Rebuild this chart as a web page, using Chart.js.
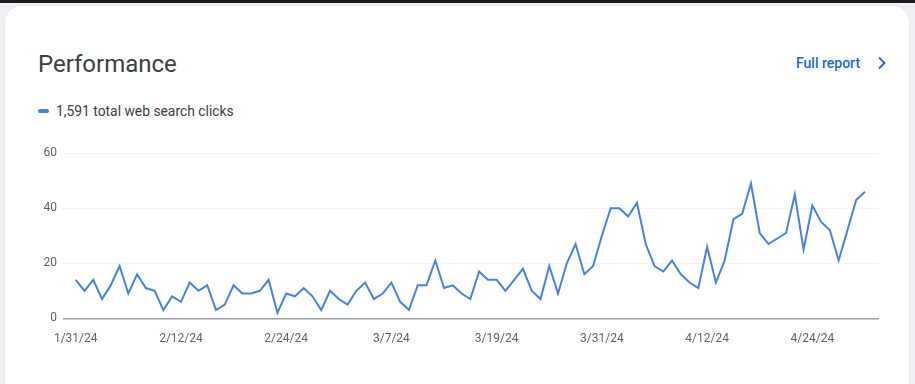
<!DOCTYPE html>
<html>
<head>
<meta charset="utf-8">
<script src="https://cdn.jsdelivr.net/npm/chart.js@4.4.1/dist/chart.umd.min.js"></script>
<style>
  html, body { margin: 0; padding: 0; }
  body {
    width: 915px; height: 384px; overflow: hidden; position: relative;
    background: #eef0f3; font-family: Roboto, 'Open Sans', sans-serif;
  }
  .topbar { position: absolute; left: 0; top: 0; width: 915px; height: 3px; background: #1b1b1b; }
  .card {
    position: absolute; left: 5px; top: 6px; width: 904px; height: 400px;
    background: #fff; border-radius: 16px;
    box-shadow: 0 0 2px rgba(60,64,67,0.12);
  }
  .title {
    position: absolute; left: 38px; top: 48px; font-size: 24px; color: #3c4043;
    letter-spacing: 0; line-height: 32px;
  }
  .full {
    position: absolute; left: 796px; top: 54px; font-size: 14px; font-weight: 500;
    color: #1a66d2; line-height: 18px;
  }
  .chev { position: absolute; left: 876px; top: 56px; }
  .legend {
    position: absolute; left: 38px; top: 102px; font-size: 13.85px; color: #3c4043; line-height: 18px;
  }
  .legend .sw {
    display: inline-block; width: 11px; height: 4px; border-radius: 2px; background: #4683e0;
    vertical-align: middle; margin-right: 7px; position: relative; top: -1px;
  }
  #wrap { position: absolute; left: 30px; top: 140px; width: 865px; height: 220px; }
</style>
</head>
<body>
<div class="topbar"></div>
<div class="card"></div>
<div class="title">Performance</div>
<div class="full">Full report</div>
<svg class="chev" width="12" height="14" viewBox="0 0 12 14">
  <path d="M3 1.5 L8.5 7 L3 12.5" fill="none" stroke="#1a66d2" stroke-width="1.8"/>
</svg>
<div class="legend"><span class="sw"></span>1,591 total web search clicks</div>
<div id="wrap"><canvas id="perf"></canvas></div>

<script>
// daily clicks, 1/31/24 .. 4/30/24 (index 0 = 1/31/24)
const CLICKS = [
  14, 10, 14, 7, 12, 19, 9, 16, 11, 10,
  3, 8, 6, 13, 10, 12, 3, 5, 12, 9,
  9, 10, 14, 2, 9, 8, 11, 8, 3, 10,
  7, 5, 10, 13, 7, 9, 13, 6, 3, 12,
  12, 21, 11, 12, 9, 7, 17, 14, 14, 10,
  14, 18, 10, 7, 19, 9, 20, 27, 16, 19,
  30, 40, 40, 37, 42, 27, 19, 17, 21, 16,
  13, 11, 26, 13, 21, 36, 38, 49, 31, 27,
  29, 31, 45, 25, 41, 35, 32, 21, 32, 43,
  46,
];

const TICK_DAYS   = [0, 12, 24, 36, 48, 60, 72, 84];
const TICK_LABELS = ['1/31/24', '2/12/24', '2/24/24', '3/7/24', '3/19/24', '3/31/24', '4/12/24', '4/24/24'];
const Y_TICKS     = [0, 20, 40, 60];

const AXIS_GRAY = '#5f6368';

new Chart(document.getElementById('perf'), {
  type: 'line',
  data: {
    datasets: [{
      label: 'Clicks',
      data: CLICKS.map((v, i) => ({ x: i, y: v })),
      borderColor: '#4683e0',
      borderWidth: 2,
      pointRadius: 0,
      tension: 0,
      fill: false,
    }],
  },
  options: {
    responsive: true,
    maintainAspectRatio: false,
    animation: false,
    layout: { padding: { top: 12.7, right: 16, left: 0, bottom: 0 } },
    plugins: { legend: { display: false }, tooltip: { enabled: false } },
    scales: {
      x: {
        type: 'linear',
        min: -1.45,
        max: 91.6,
        afterBuildTicks: s => { s.ticks = TICK_DAYS.map(v => ({ value: v })); },
        afterFit: s => { s.height = 41.7; },
        ticks: {
          autoSkip: false, maxRotation: 0, padding: 13,
          color: AXIS_GRAY, font: { family: 'Roboto', size: 12 },
          callback: v => TICK_LABELS[TICK_DAYS.indexOf(v)],
        },
        grid: { display: false, drawTicks: false },
        border: { display: false },
      },
      y: {
        min: 0,
        max: 60,
        afterBuildTicks: s => { s.ticks = Y_TICKS.map(v => ({ value: v })); },
        afterFit: s => { s.width = 33; },
        ticks: {
          padding: 6, color: AXIS_GRAY, font: { family: 'Roboto', size: 12 },
        },
        grid: {
          drawTicks: false,
          color: ctx => ctx.tick && ctx.tick.value === 0 ? '#9aa0a6' : '#f1f3f4',
          lineWidth: ctx => ctx.tick && ctx.tick.value === 0 ? 1.5 : 1,
        },
        border: { display: false },
      },
    },
  },
});
</script>
</body>
</html>
